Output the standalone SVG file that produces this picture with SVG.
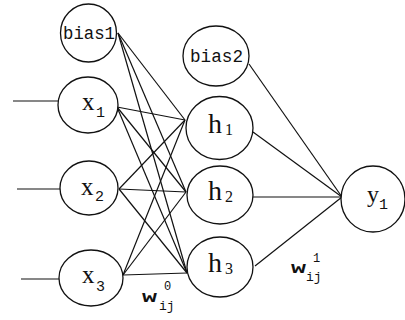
<svg xmlns="http://www.w3.org/2000/svg" width="405" height="320" viewBox="0 0 405 320">
<style>
.n{fill:#fff;stroke:#111;stroke-width:1.3}
.c line{stroke:#111;stroke-width:1.2}
.m{font-family:"Liberation Mono","DejaVu Sans Mono",monospace;fill:#111}
.s{font-family:"Liberation Serif","Times New Roman",serif;fill:#111}
</style>
<rect width="405" height="320" fill="#fff"/>
<g id="connectors" class="c">
<line x1="13" y1="101" x2="58" y2="101"/>
<line x1="17" y1="189" x2="60" y2="189"/>
<line x1="21" y1="279" x2="59" y2="279"/>
<line x1="118" y1="33" x2="185" y2="120"/>
<line x1="118" y1="33" x2="186" y2="192"/>
<line x1="118" y1="33" x2="187" y2="273"/>
<line x1="117" y1="107" x2="185" y2="120"/>
<line x1="117" y1="107" x2="186" y2="192"/>
<line x1="117" y1="107" x2="187" y2="273"/>
<line x1="119" y1="189" x2="185" y2="120"/>
<line x1="119" y1="189" x2="186" y2="192"/>
<line x1="119" y1="189" x2="187" y2="273"/>
<line x1="123" y1="275" x2="185" y2="120"/>
<line x1="123" y1="275" x2="186" y2="192"/>
<line x1="123" y1="275" x2="187" y2="273"/>
<line x1="249" y1="64" x2="342" y2="197"/>
<line x1="253" y1="132" x2="342" y2="197"/>
<line x1="253" y1="197" x2="342" y2="197"/>
<line x1="255" y1="266" x2="342" y2="197"/>
</g>
<g id="bias1"><ellipse class="n" cx="88.5" cy="33" rx="28" ry="29"/><text class="m" x="63" y="39" font-size="18" textLength="52" lengthAdjust="spacingAndGlyphs">bias1</text></g>
<g id="x1"><ellipse class="n" cx="88" cy="105" rx="30" ry="28"/><text class="s" x="82" y="110" font-size="25">x</text><text class="m" x="96" y="117" font-size="15">1</text></g>
<g id="x2"><ellipse class="n" cx="89" cy="188" rx="29" ry="27"/><text class="s" x="81" y="195" font-size="25">x</text><text class="m" x="95" y="201" font-size="15">2</text></g>
<g id="x3"><ellipse class="n" cx="91" cy="278" rx="32" ry="28"/><text class="s" x="82" y="283" font-size="25">x</text><text class="m" x="96" y="291" font-size="15">3</text></g>
<g id="bias2"><ellipse class="n" cx="216" cy="56" rx="33" ry="30"/><text class="m" x="190" y="62" font-size="18" textLength="53" lengthAdjust="spacingAndGlyphs">bias2</text></g>
<g id="h1"><ellipse class="n" cx="219.5" cy="128" rx="33.5" ry="31.5"/><text class="s" x="208" y="133" font-size="28">h</text><text class="s" x="225" y="135" font-size="16">1</text></g>
<g id="h2"><ellipse class="n" cx="220" cy="195" rx="33" ry="29"/><text class="s" x="208" y="200" font-size="28">h</text><text class="s" x="225" y="202" font-size="16">2</text></g>
<g id="h3"><ellipse class="n" cx="220" cy="267" rx="33" ry="30"/><text class="s" x="208" y="272" font-size="28">h</text><text class="s" x="225" y="274" font-size="16">3</text></g>
<g id="y1"><ellipse class="n" cx="373" cy="199" rx="32" ry="33"/><text class="s" x="367" y="202" font-size="24">y</text><text class="m" x="379" y="209" font-size="15">1</text></g>
<g id="w0"><text class="m" x="142" y="302" font-size="16" font-weight="bold" textLength="15" lengthAdjust="spacingAndGlyphs">w</text><text class="m" x="164" y="290" font-size="12">0</text><text class="m" x="159" y="310" font-size="13">ij</text></g>
<g id="w1"><text class="m" x="291" y="273" font-size="16" font-weight="bold" textLength="15" lengthAdjust="spacingAndGlyphs">w</text><text class="m" x="313" y="262" font-size="12">1</text><text class="m" x="306" y="281" font-size="13">ij</text></g>
</svg>
